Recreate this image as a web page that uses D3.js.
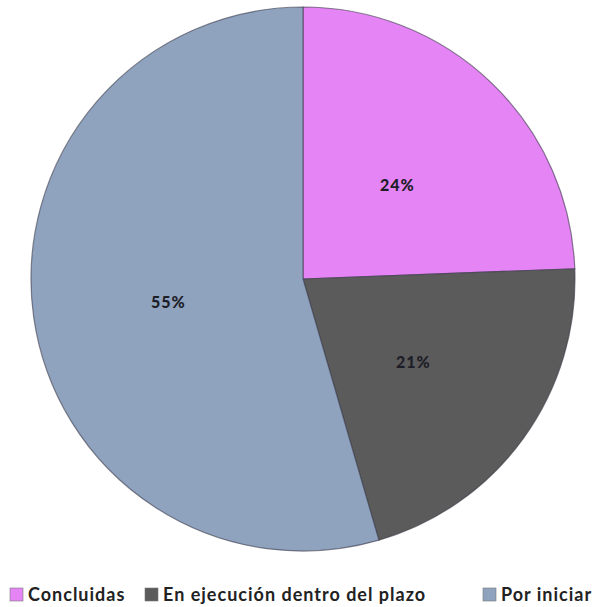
<!DOCTYPE html>
<html><head><meta charset="utf-8">
<script src="https://cdn.jsdelivr.net/npm/d3@7"></script>
<style>html,body{margin:0;padding:0;background:#fff;}</style>
</head><body>
<svg id="chart" width="602" height="607"></svg>
<script>
const categories = ["Concluidas", "En ejecución dentro del plazo", "Por iniciar"];
const values = [24.4, 21.1, 54.5];
const labels = ["24%", "21%", "55%"];
const colors = ["#E584F5", "#5B5B5B", "#8FA3BF"];

const svg = d3.select("#chart");
const cx = 303, cy = 279, R = 272;

const pie = d3.pie().sort(null).value(d => d)(values);
const arc = d3.arc().innerRadius(0).outerRadius(R);
const labelArc = d3.arc().innerRadius(136).outerRadius(136);

const g = svg.append("g").attr("transform", `translate(${cx},${cy})`);
g.selectAll("path").data(pie).join("path")
  .attr("d", arc)
  .attr("fill", (d, i) => colors[i])
  .attr("stroke", "#3a3a4a").attr("stroke-width", 1.2).attr("stroke-opacity", 0.6);

g.selectAll("text").data(pie).join("text")
  .attr("transform", d => { const [x, y] = labelArc.centroid(d); return `translate(${x},${y + 4})`; })
  .attr("text-anchor", "middle").attr("dy", "0.36em")
  .style("font-family", "Lato, 'Open Sans', sans-serif")
  .style("font-weight", "900").style("font-size", "16px")
  .style("letter-spacing", "1px")
  .attr("fill", "#1e1e28")
  .text((d, i) => labels[i]);

// legend
const legendX = d3.scaleOrdinal().domain(categories).range([10, 145, 483]);
const lg = svg.append("g").selectAll("g").data(categories).join("g")
  .attr("transform", d => `translate(${legendX(d)},588)`);
lg.append("rect").attr("width", 13).attr("height", 13)
  .attr("fill", (d, i) => colors[i]).attr("stroke", "#777").attr("stroke-width", 0.6);
lg.append("text").attr("x", 18).attr("y", 13)
  .style("font-family", "Lato, 'Open Sans', sans-serif")
  .style("font-weight", "bold").style("font-size", "18px")
  .style("letter-spacing", "1px")
  .attr("fill", "#222")
  .text(d => d);
</script>
</body></html>
